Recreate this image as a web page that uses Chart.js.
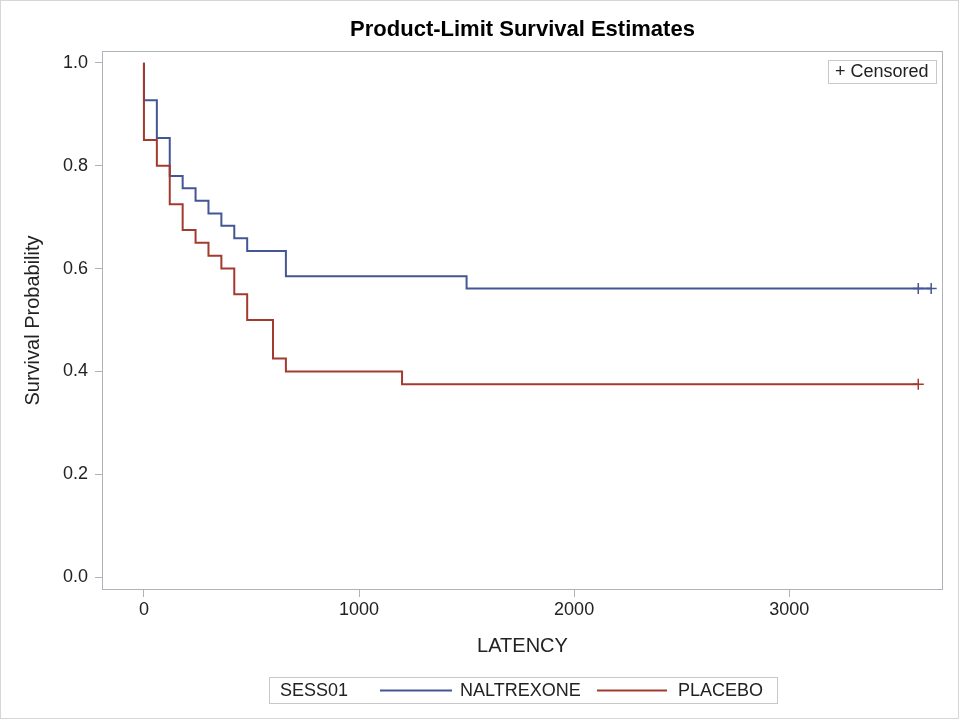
<!DOCTYPE html>
<html lang="en">
<head>
<meta charset="UTF-8" />
<title>Product-Limit Survival Estimates</title>
<script src="https://cdn.jsdelivr.net/npm/chart.js"></script>
<style>
  body { margin: 0; background: #fff; }
  canvas { display: block; }
</style>
</head>
<body>
<canvas id="kmChart" width="959" height="719"></canvas>
<script>
  // step points (LATENCY, survival estimate after the step)
  const naltrexoneTimes = [0, 0, 60, 120, 180, 240, 300, 360, 420, 480, 660, 1500, 3660];
  const naltrexoneSurv  = [1.0, 0.927, 0.854, 0.780, 0.756, 0.732, 0.707, 0.683, 0.659, 0.634, 0.585, 0.561, 0.561];
  const placeboTimes = [0, 0, 60, 120, 180, 240, 300, 360, 420, 480, 600, 660, 1200, 3600];
  const placeboSurv  = [1.0, 0.85, 0.80, 0.725, 0.675, 0.65, 0.625, 0.60, 0.55, 0.50, 0.425, 0.40, 0.375, 0.375];

  // censored observations
  const naltrexoneCensTimes = [3600, 3660];
  const naltrexoneCensSurv  = [0.561, 0.561];
  const placeboCensTimes = [3600];
  const placeboCensSurv  = [0.375];

  const xTicks = [0, 1000, 2000, 3000];
  const yTicks = [0.0, 0.2, 0.4, 0.6, 0.8, 1.0];

  const BLUE = "#445694";
  const RED = "#a23a2e";
  const FRAME = "#adb3b7";
  const FONT = "Arial, 'Liberation Sans', sans-serif";

  const toPoints = (xs, ys) => xs.map((x, i) => ({ x, y: ys[i] }));

  // title, frame, legends and axis labels
  const decor = {
    id: "decor",
    afterDraw(chart) {
      const { ctx, chartArea: a } = chart;
      const cx = (a.left + a.right) / 2;
      ctx.save();

      ctx.strokeStyle = "#d6d6d6";
      ctx.lineWidth = 1;
      ctx.strokeRect(0.5, 0.5, chart.width - 1, chart.height - 1);

      ctx.strokeStyle = FRAME;
      ctx.strokeRect(a.left + 0.5, a.top + 0.5, a.right - a.left - 1, a.bottom - a.top - 1);

      ctx.fillStyle = "#000";
      ctx.textAlign = "center";
      ctx.textBaseline = "middle";
      ctx.font = "bold 22px " + FONT;
      ctx.fillText("Product-Limit Survival Estimates", cx, 30);

      ctx.fillStyle = "#222";
      ctx.font = "20px " + FONT;
      ctx.fillText("LATENCY", cx, 646);
      ctx.save();
      ctx.translate(33, (a.top + a.bottom) / 2);
      ctx.rotate(-Math.PI / 2);
      ctx.fillText("Survival Probability", 0, 0);
      ctx.restore();

      // censored key
      ctx.strokeStyle = "#c8c8c8";
      ctx.strokeRect(828.5, 60.5, 108, 23);
      ctx.textAlign = "left";
      ctx.font = "18px " + FONT;
      ctx.fillStyle = "#222";
      ctx.fillText("+ Censored", 835, 72);

      // group legend
      ctx.strokeStyle = "#c8c8c8";
      ctx.strokeRect(269.5, 677.5, 508, 26);
      ctx.fillText("SESS01", 280, 691);
      ctx.lineWidth = 2;
      ctx.strokeStyle = BLUE;
      ctx.beginPath(); ctx.moveTo(380, 690.5); ctx.lineTo(452, 690.5); ctx.stroke();
      ctx.fillText("NALTREXONE", 460, 691);
      ctx.strokeStyle = RED;
      ctx.beginPath(); ctx.moveTo(597, 690.5); ctx.lineTo(667, 690.5); ctx.stroke();
      ctx.fillText("PLACEBO", 678, 691);

      ctx.restore();
    }
  };

  new Chart(document.getElementById("kmChart"), {
    type: "line",
    data: {
      datasets: [
        {
          label: "NALTREXONE",
          data: toPoints(naltrexoneTimes, naltrexoneSurv),
          borderColor: BLUE,
          borderWidth: 2,
          stepped: "before",
          pointRadius: 0,
          fill: false,
          order: 2
        },
        {
          label: "PLACEBO",
          data: toPoints(placeboTimes, placeboSurv),
          borderColor: RED,
          borderWidth: 2,
          stepped: "before",
          pointRadius: 0,
          fill: false,
          order: 1
        },
        {
          type: "scatter",
          label: "NALTREXONE censored",
          data: toPoints(naltrexoneCensTimes, naltrexoneCensSurv),
          pointStyle: "cross",
          pointRadius: 5.5,
          borderColor: BLUE,
          borderWidth: 1.5,
          showLine: false,
          order: 0
        },
        {
          type: "scatter",
          label: "PLACEBO censored",
          data: toPoints(placeboCensTimes, placeboCensSurv),
          pointStyle: "cross",
          pointRadius: 5.5,
          borderColor: RED,
          borderWidth: 1.5,
          showLine: false,
          order: 0
        }
      ]
    },
    options: {
      responsive: false,
      animation: false,
      layout: { padding: { left: 0, right: 16, top: 51, bottom: 0 } },
      plugins: {
        legend: { display: false },
        tooltip: { enabled: false }
      },
      scales: {
        x: {
          type: "linear",
          min: -195,
          max: 3715,
          afterBuildTicks: s => { s.ticks = xTicks.map(v => ({ value: v })); },
          afterFit: s => { s.height = 129; },
          border: { display: false },
          grid: { drawOnChartArea: false, tickLength: 7, color: FRAME },
          ticks: {
            color: "#222",
            padding: 2,
            maxRotation: 0,
            font: { family: FONT, size: 18 },
            callback: v => String(v)
          }
        },
        y: {
          type: "linear",
          min: -0.025,
          max: 1.023,
          afterBuildTicks: s => { s.ticks = yTicks.map(v => ({ value: v })); },
          afterFit: s => { s.width = 102; },
          border: { display: false },
          grid: { drawOnChartArea: false, tickLength: 7, color: FRAME },
          ticks: {
            color: "#222",
            padding: 7,
            font: { family: FONT, size: 18 },
            callback: v => v.toFixed(1)
          }
        }
      }
    },
    plugins: [decor]
  });
</script>
</body>
</html>
